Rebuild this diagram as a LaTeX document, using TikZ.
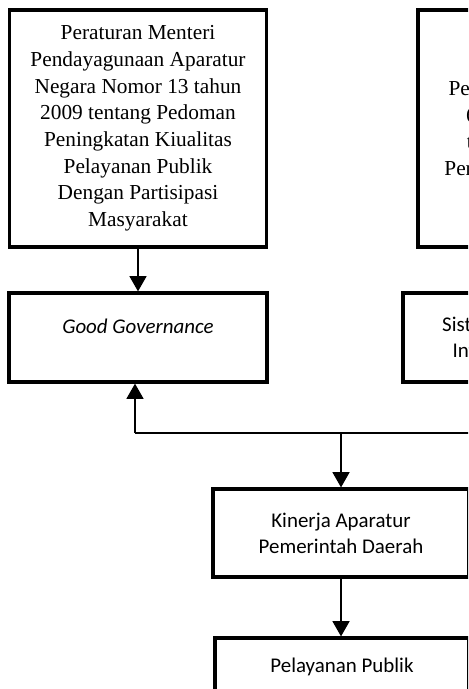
\documentclass[tikz,border=0pt]{standalone}
\usepackage{fontspec}
\setmainfont{Liberation Serif}
\newfontfamily\calib{Carlito}
\usetikzlibrary{arrows.meta}
\begin{document}
\begin{tikzpicture}[x=0.75pt,y=-0.75pt,
  box/.style={draw,line width=2.3pt,inner sep=0pt,align=center},
  serifbox/.style={box,font=\fontsize{16}{20}\selectfont},
  sansbox/.style={box,font=\calib\fontsize{15.7}{19.5}\selectfont},
  conn/.style={line width=2pt,-{Triangle[length=11.5pt,width=12.5pt]}},
  hline/.style={line width=1.4pt}]
\useasboundingbox (0,0) rectangle (468,689);
\clip (0,0) rectangle (468,689);
\node[serifbox,minimum width=192.75pt,minimum height=177.75pt] (perm) at (138,128.5)
  {Peraturan Menteri\\Pendayagunaan Aparatur\\Negara Nomor 13 tahun\\2009 tentang Pedoman\\Peningkatan Kiualitas\\Pelayanan Publik\\Dengan Partisipasi\\Masyarakat};
\node[serifbox,minimum width=168pt,minimum height=177.75pt] (pp) at (530,128.5)
  {Peraturan\\Pemerintah Nomor\\60 Tahun 2008\\tentang Sistem\\Pengendalian Intern\\Pemerintah};
\node[sansbox,minimum width=193.5pt,minimum height=66.75pt] (gg) at (138,337.5)
  {\textit{Good Governance}\\[-9pt]\strut};
\node[sansbox,minimum width=190.5pt,minimum height=66.75pt] (sis) at (530,337.5)
  {Sistem Pengendalian\\Intern Pemerintah};
\node[sansbox,minimum width=192pt,minimum height=66pt] (kin) at (341,533)
  {Kinerja Aparatur\\Pemerintah Daerah};
\node[sansbox,minimum width=190.5pt,minimum height=66.75pt] (pel) at (342,682.5)
  {Pelayanan Publik\\\strut};
\draw[conn] (perm.south) -- (gg.north);
\draw[conn] (pp.south) -- (sis.north);
\coordinate (jl) at (135,433);
\coordinate (j) at (341,433);
\coordinate (jr) at (530,433);
\draw[hline] (jl) -- (jr);
\draw[conn] (jl) -- (jl |- gg.south);
\draw[conn] (jr) -- (sis.south);
\draw[conn] (j) -- (kin.north);
\draw[conn] (kin.south) -- (pel.north -| kin.south);
\end{tikzpicture}
\end{document}
